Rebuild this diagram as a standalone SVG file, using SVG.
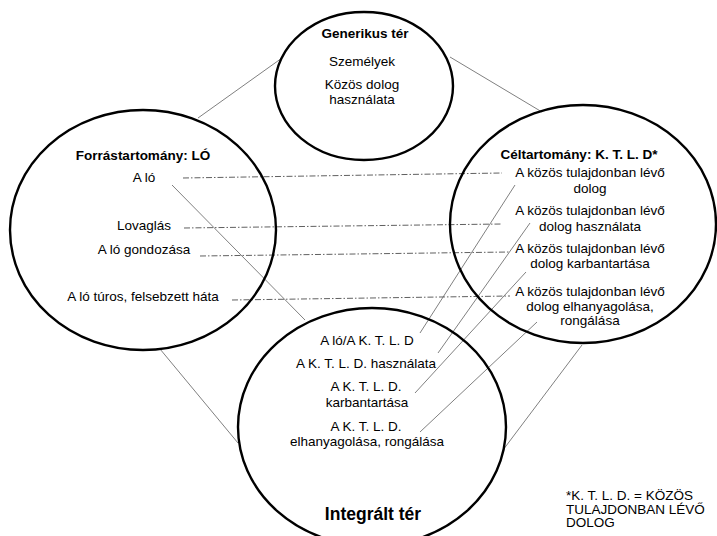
<svg xmlns="http://www.w3.org/2000/svg" width="717" height="536" viewBox="0 0 717 536">
<style>
.el{fill:none;stroke:#000;stroke-width:2.4}
.ln{stroke:#808080;stroke-width:1;fill:none}
.dd{stroke:#606060;stroke-width:1;fill:none;stroke-dasharray:6 2 1.5 2}
text{font-family:"Liberation Sans",Arial,sans-serif;font-size:13.5px;fill:#000;text-anchor:middle}
.b{font-weight:bold}
.big{font-weight:bold;font-size:17.5px}
.fn{text-anchor:start;font-size:13.5px}
</style>
<rect width="717" height="536" fill="#fff"/>
<g id="connectors">
<line class="ln" x1="282" y1="58" x2="198" y2="118"/>
<line class="ln" x1="450" y1="57" x2="542" y2="112"/>
<line class="ln" x1="160" y1="349" x2="238" y2="443"/>
<line class="ln" x1="582" y1="345" x2="503" y2="450"/>
<line class="ln" x1="172" y1="185" x2="305" y2="320"/>
<line class="ln" x1="515" y1="185" x2="420" y2="333"/>
<line class="ln" x1="530" y1="223" x2="438" y2="353"/>
<line class="ln" x1="526" y1="272" x2="415" y2="393"/>
<line class="ln" x1="537" y1="322" x2="420" y2="432"/>
<line class="dd" x1="183" y1="178" x2="502" y2="173"/>
<line class="dd" x1="184" y1="228" x2="502" y2="224"/>
<line class="dd" x1="200" y1="256" x2="510" y2="252"/>
<line class="dd" x1="232" y1="300" x2="510" y2="296"/>
</g>
<g id="generikus">
<ellipse class="el" cx="364" cy="86" rx="89" ry="74"/>
<text class="b" x="365" y="38">Generikus tér</text>
<text x="362" y="66">Személyek</text>
<text x="362" y="89">Közös dolog</text>
<text x="362" y="104">használata</text>
</g>
<g id="forras">
<ellipse class="el" cx="143" cy="230" rx="133" ry="120"/>
<text class="b" x="143" y="160">Forrástartomány: LÓ</text>
<text x="144" y="182">A ló</text>
<text x="144" y="230">Lovaglás</text>
<text x="144" y="254">A ló gondozása</text>
<text x="143" y="301">A ló túros, felsebzett háta</text>
</g>
<g id="cel">
<ellipse class="el" cx="583" cy="224" rx="133" ry="119"/>
<text class="b" x="579" y="159">Céltartomány: K. T. L. D*</text>
<text x="590" y="177">A közös tulajdonban lévő</text>
<text x="590" y="193">dolog</text>
<text x="590" y="215">A közös tulajdonban lévő</text>
<text x="590" y="231">dolog használata</text>
<text x="590" y="253">A közös tulajdonban lévő</text>
<text x="590" y="268">dolog karbantartása</text>
<text x="590" y="296">A közös tulajdonban lévő</text>
<text x="590" y="311">dolog elhanyagolása,</text>
<text x="590" y="325">rongálása</text>
</g>
<g id="integralt">
<ellipse class="el" cx="372" cy="427" rx="134" ry="119"/>
<text x="367" y="345">A ló/A K. T. L. D</text>
<text x="366" y="368">A K. T. L. D. használata</text>
<text x="366" y="391">A K. T. L. D.</text>
<text x="367" y="407">karbantartása</text>
<text x="366" y="431">A K. T. L. D.</text>
<text x="367" y="446">elhanyagolása, rongálása</text>
<text class="big" x="373" y="520">Integrált tér</text>
</g>
<g id="footnote">
<text class="fn" x="566" y="500"><tspan x="566" y="500">*K. T. L. D. = KÖZÖS</tspan><tspan x="566" y="513.5">TULAJDONBAN LÉVŐ</tspan><tspan x="566" y="527">DOLOG</tspan></text>
</g>
</svg>
